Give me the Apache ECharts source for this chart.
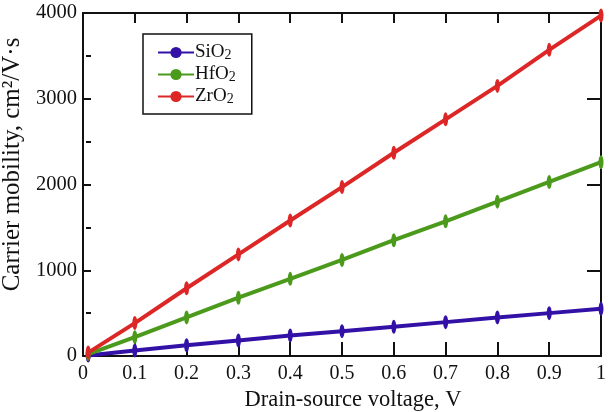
<!DOCTYPE html>
<html>
<head>
<meta charset="utf-8">
<script src="https://cdn.jsdelivr.net/npm/echarts@6/dist/echarts.min.js"></script>
<style>
  html, body { margin: 0; padding: 0; background: #fff; }
  #cv { width: 614px; height: 412px; }
</style>
</head>
<body>
<div id="cv"></div>
<script>
    var voltage = [0.01, 0.1, 0.2, 0.3, 0.4, 0.5, 0.6, 0.7, 0.8, 0.9, 1.0];
    var sio2 = [6, 65, 125, 180, 240, 290, 340, 395, 450, 500, 550];
    var hfo2 = [23, 220, 450, 680, 900, 1120, 1350, 1570, 1800, 2030, 2260];
    var zro2 = [40, 384, 790, 1185, 1580, 1970, 2370, 2760, 3150, 3570, 3970];
    var seriesNames = ['SiO2', 'HfO2', 'ZrO2'];
    var seriesColors = ['#3311a6', '#4b9a1c', '#dd2626'];

    function pairs(ys) {
        return voltage.map(function (x, i) { return [x, ys[i]]; });
    }

    var font = 'Liberation Serif';
    var ink = '#111';
    var myChart = echarts.init(document.getElementById('cv'));

    function mkSeries(name, ys, color) {
        return {
            name: name, type: 'line', data: pairs(ys),
            symbol: 'circle', symbolSize: [5, 14], showSymbol: true,
            lineStyle: { width: 4, color: color }, itemStyle: { color: color },
            emphasis: { disabled: true }
        };
    }

    function baseX(pos, extra) {
        return Object.assign({
            type: 'value', position: pos, min: 0, max: 1, interval: 0.1,
            axisLine: { show: false, onZero: false },
            axisTick: { show: false }, axisLabel: { show: false }, splitLine: { show: false }
        }, extra || {});
    }
    function baseY(pos, extra) {
        return Object.assign({
            type: 'value', position: pos, min: 0, max: 4000, interval: 1000,
            axisLine: { show: false, onZero: false },
            axisTick: { show: false }, axisLabel: { show: false }, splitLine: { show: false }
        }, extra || {});
    }
    function tk(len, inside) {
        return { show: true, inside: !!inside, length: len, lineStyle: { color: ink, width: 2 } };
    }

    var option = {
        animation: false,
        backgroundColor: '#fff',
        grid: { left: 83, right: 13, top: 13, bottom: 56, outerBoundsMode: 'none', containLabel: false },
        legend: {
            left: 143, top: 34, orient: 'vertical',
            padding: [9, 16, 8, 14], itemGap: 3, itemWidth: 36, itemHeight: 14,
            borderColor: ink, borderWidth: 1.5, borderRadius: 0,
            data: seriesNames,
            formatter: function (n) { return n.replace('2', '') + '{s|2}'; },
            textStyle: {
                fontFamily: font, fontSize: 19, color: ink, padding: [0, 0, 0, -4],
                rich: { s: { fontFamily: font, fontSize: 14, color: ink, padding: [5, 0, 0, 0] } }
            }
        },
        xAxis: [
            baseX('bottom', {
                axisLine: { show: true, onZero: false, lineStyle: { color: ink, width: 2 } },
                name: 'Drain-source voltage, V', nameLocation: 'middle', nameGap: 6,
                nameTextStyle: { fontFamily: font, fontSize: 22.5, color: ink, padding: [0, 0, 0, 22] },
                axisLabel: {
                    show: true, fontFamily: font, fontSize: 20, color: ink, margin: 8,
                    formatter: function (v) { return String(Math.round(v * 10) / 10); }
                }
            }),
            baseX('top', { axisLine: { show: true, onZero: false, lineStyle: { color: ink, width: 2 } } }),
            baseX('bottom', { offset: -10, axisTick: tk(10) }),
            baseX('top', { offset: -10, axisTick: tk(10) }),
            baseX('bottom', { offset: 0, axisTick: tk(14, true) })
        ],
        yAxis: [
            baseY('left', {
                axisLine: { show: true, onZero: false, lineStyle: { color: ink, width: 2 } },
                name: 'Carrier mobility, cm²/V·s', nameLocation: 'middle', nameGap: 6,
                nameTextStyle: { fontFamily: font, fontSize: 25, color: ink, padding: [0, 0, 0, 40] },
                axisLabel: { show: true, fontFamily: font, fontSize: 20.5, color: ink, margin: 6, formatter: function (v) { return String(v); } }
            }),
            baseY('right', { axisLine: { show: true, onZero: false, lineStyle: { color: ink, width: 2 } } }),
            baseY('left', { offset: -8, axisTick: tk(8), minorTick: { show: true, splitNumber: 2, length: 5, lineStyle: { color: ink, width: 2 } } }),
            baseY('right', { offset: -8, axisTick: tk(8) }),
            baseY('right', { offset: 0, axisTick: tk(14, true) })
        ],
        series: [
            mkSeries(seriesNames[0], sio2, seriesColors[0]),
            mkSeries(seriesNames[1], hfo2, seriesColors[1]),
            mkSeries(seriesNames[2], zro2, seriesColors[2])
        ]
    };
    myChart.setOption(option);
</script>
</body>
</html>
